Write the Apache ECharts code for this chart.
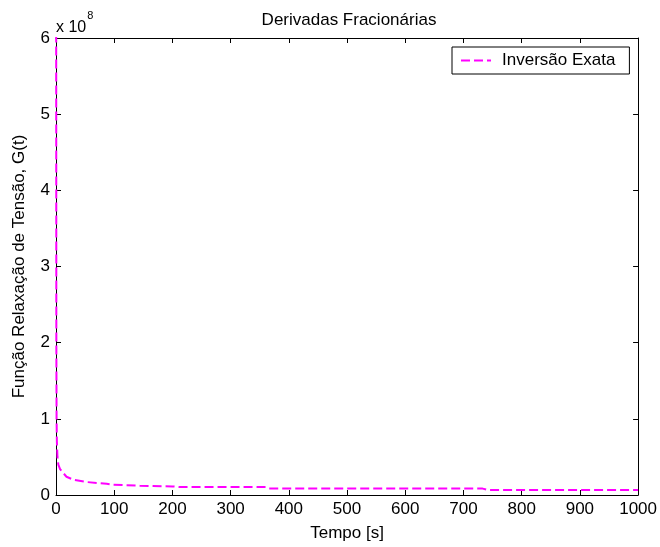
<!DOCTYPE html>
<html>
<head>
<meta charset="utf-8">
<script src="https://cdn.jsdelivr.net/npm/echarts@6/dist/echarts.min.js"></script>
<style>
html,body{margin:0;padding:0;background:#fff;}
#chart{width:660px;height:547px;}
</style>
</head>
<body>
<div id="chart"></div>
<script>
// Data (G in units of 1e8)
const tempo = [0.3, 0.6, 1, 1.5, 2.5, 4, 7, 10, 18, 30, 53, 87, 90, 98, 144, 200, 213, 360, 365, 733, 742, 1000];
const G = [6.4, 2.0, 1.0, 0.7, 0.5, 0.40, 0.34, 0.31, 0.24, 0.20, 0.17, 0.148, 0.14, 0.135, 0.122, 0.113, 0.105, 0.104, 0.086, 0.084, 0.067, 0.066];
const xTicks = [0, 100, 200, 300, 400, 500, 600, 700, 800, 900, 1000];
const yTicks = [0, 1, 2, 3, 4, 5, 6];
const seriesName = 'Inversão Exata';
const titleText = 'Derivadas Fracionárias';
const xName = 'Tempo [s]';
const yName = 'Função Relaxação de Tensão, G(t)';

const FONT = "'Liberation Sans', Arial, sans-serif";
const FS = 17;
const chart = echarts.init(document.getElementById('chart'), null, {renderer: 'canvas'});

const tickStyle = {show: true, inside: true, length: 5, lineStyle: {color: '#000', width: 1}};
const lineAx = {show: true, onZero: false, lineStyle: {color: '#000', width: 1}};

chart.setOption({
  animation: false,
  backgroundColor: '#fff',
  title: {
    text: titleText,
    left: 344, top: 7, textAlign: 'center',
    textStyle: {fontFamily: FONT, fontSize: FS, fontWeight: 'normal', color: '#000'}
  },
  graphic: [{
    type: 'text', left: 56, top: 10,
    style: {
      text: '{a|x 10}{b|8}',
      rich: {
        a: {fontFamily: FONT, fontSize: 16, color: '#000', padding: [10, 0, 0, 0]},
        b: {fontFamily: FONT, fontSize: 11, color: '#000', verticalAlign: 'top', padding: [0, 0, 0, 1]}
      }
    }
  }],
  legend: {
    data: [seriesName],
    left: 452, top: 47,
    orient: 'vertical',
    padding: [5, 14, 5, 8],
    itemWidth: 30, itemHeight: 14,
    itemStyle: {opacity: 0},
    backgroundColor: '#fff',
    borderColor: '#000', borderWidth: 1, borderRadius: 0,
    textStyle: {fontFamily: FONT, fontSize: FS, color: '#000', padding: [0, 0, 0, 6]}
  },
  grid: {left: 56, right: 21, top: 38, bottom: 50, containLabel: false},
  xAxis: [{
    type: 'value', min: 0, max: 1000, interval: 100,
    name: xName, nameLocation: 'middle', nameGap: 30,
    nameTextStyle: {fontFamily: FONT, fontSize: FS, color: '#000'},
    axisLine: lineAx, axisTick: tickStyle,
    axisLabel: {fontFamily: FONT, fontSize: FS, color: '#000', margin: 6,
      formatter: v => xTicks.includes(v) ? String(v) : ''},
    splitLine: {show: false}
  }, {
    type: 'value', min: 0, max: 1000, interval: 100, position: 'top',
    axisLine: lineAx, axisTick: tickStyle, axisLabel: {show: false}, splitLine: {show: false}
  }],
  yAxis: [{
    type: 'value', min: 0, max: 6, interval: 1,
    name: yName, nameLocation: 'middle', nameGap: 28, nameRotate: 90,
    nameTextStyle: {fontFamily: FONT, fontSize: FS, color: '#000'},
    axisLine: lineAx, axisTick: tickStyle,
    axisLabel: {fontFamily: FONT, fontSize: FS, color: '#000', margin: 6,
      formatter: v => yTicks.includes(v) ? String(v) : ''},
    splitLine: {show: false}
  }, {
    type: 'value', min: 0, max: 6, interval: 1, position: 'right',
    axisLine: lineAx, axisTick: tickStyle, axisLabel: {show: false}, splitLine: {show: false}
  }],
  series: [{
    name: seriesName,
    type: 'line',
    xAxisIndex: 0, yAxisIndex: 0,
    data: tempo.map((t, i) => [t, G[i]]),
    showSymbol: false, symbol: 'none',
    clip: true,
    itemStyle: {color: '#ff00ff'},
    lineStyle: {color: '#ff00ff', width: 2, type: [9, 4]}
  }]
});
</script>
</body>
</html>
